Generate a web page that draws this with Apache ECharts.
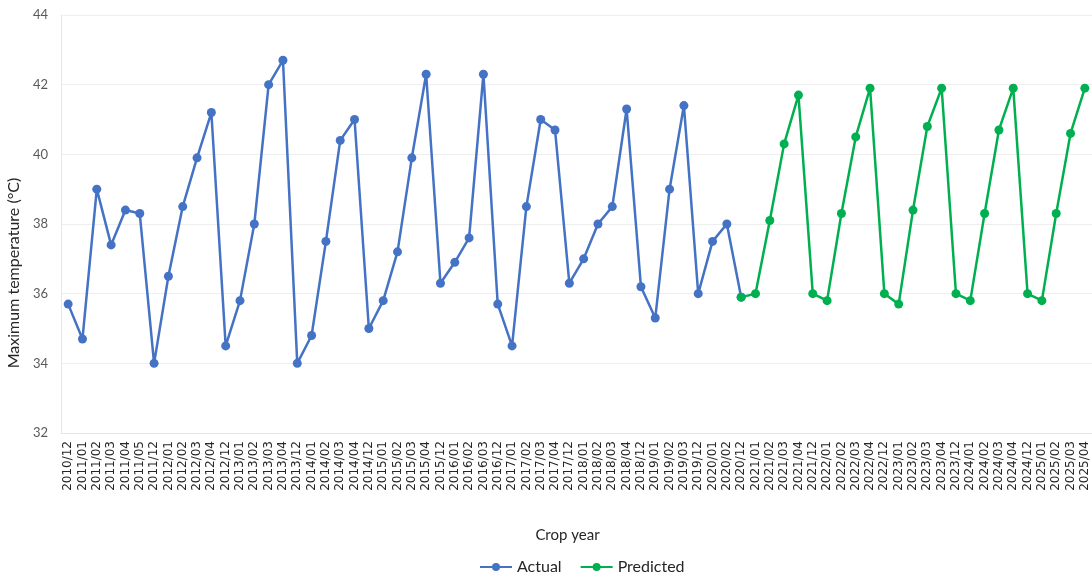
<!DOCTYPE html>
<html>
<head>
<meta charset="utf-8">
<script src="https://cdn.jsdelivr.net/npm/echarts@6/dist/echarts.min.js"></script>
<style>html,body{margin:0;padding:0;background:#fff;}#c{width:1092px;height:579px;}</style>
</head>
<body>
<div id="c"></div>
<script>
const categories = ["2010/12","2011/01","2011/02","2011/03","2011/04","2011/05","2011/12","2012/01","2012/02","2012/03","2012/04","2012/12","2013/01","2013/02","2013/03","2013/04","2013/12","2014/01","2014/02","2014/03","2014/04","2014/12","2015/01","2015/02","2015/03","2015/04","2015/12","2016/01","2016/02","2016/03","2016/12","2017/01","2017/02","2017/03","2017/04","2017/12","2018/01","2018/02","2018/03","2018/04","2018/12","2019/01","2019/02","2019/03","2019/12","2020/01","2020/02","2020/12","2021/01","2021/02","2021/03","2021/04","2021/12","2022/01","2022/02","2022/03","2022/04","2022/12","2023/01","2023/02","2023/03","2023/04","2023/12","2024/01","2024/02","2024/03","2024/04","2024/12","2025/01","2025/02","2025/03","2025/04"];
const actual = [35.7,34.7,39.0,37.4,38.4,38.3,34.0,36.5,38.5,39.9,41.2,34.5,35.8,38.0,42.0,42.7,34.0,34.8,37.5,40.4,41.0,35.0,35.8,37.2,39.9,42.3,36.3,36.9,37.6,42.3,35.7,34.5,38.5,41.0,40.7,36.3,37.0,38.0,38.5,41.3,36.2,35.3,39.0,41.4,36.0,37.5,38.0,35.9];
const predictedStart = "2020/12";
const predicted = [35.9,36.0,38.1,40.3,41.7,36.0,35.8,38.3,40.5,41.9,36.0,35.7,38.4,40.8,41.9,36.0,35.8,38.3,40.7,41.9,36.0,35.8,38.3,40.6,41.9];
const yTicks = {min:32, max:44, interval:2};

const startIdx = categories.indexOf(predictedStart);
const actualData = categories.map((c,i)=> i < actual.length ? actual[i] : null);
const predData = categories.map((c,i)=> i >= startIdx ? predicted[i-startIdx] : null);

const chart = echarts.init(document.getElementById('c'), null, {renderer:'canvas'});
chart.setOption({
  animation:false,
  backgroundColor:'#ffffff',
  grid:{left:61, right:0, top:15, bottom:146, outerBoundsMode:'none', containLabel:false},
  legend:{
    bottom:-1, left:474,
    itemWidth:32, itemHeight:10, itemGap:18,
    textStyle:{fontFamily:'Lato', fontSize:16, color:'#262626'},
    data:['Actual','Predicted']
  },
  xAxis:{
    type:'category', data:categories, boundaryGap:true,
    name:'Crop year', nameLocation:'middle', nameGap:95,
    nameTextStyle:{fontFamily:'Lato', fontSize:15, color:'#262626', padding:[0,18,0,0]},
    axisLine:{show:true, lineStyle:{color:'#e6e6e6'}},
    axisTick:{show:false},
    axisLabel:{interval:0, rotate:90, margin:8, fontFamily:'DejaVu Sans', fontSize:12, color:'#262626'}
  },
  yAxis:{
    type:'value', min:yTicks.min, max:yTicks.max, interval:yTicks.interval,
    name:'Maximum temperature (°C)', nameLocation:'middle', nameGap:32, nameRotate:90,
    nameTextStyle:{fontFamily:'Lato', fontSize:16, color:'#262626', padding:[0,98,0,0]},
    axisLine:{show:true, lineStyle:{color:'#e6e6ee'}},
    axisTick:{show:false},
    axisLabel:{margin:13, fontFamily:'Lato', fontSize:13, color:'#595959'},
    splitLine:{show:true, lineStyle:{color:'#eeeeee', width:1}}
  },
  series:[
    {name:'Actual', type:'line', data:actualData, color:'#4472C4',
     symbol:'circle', symbolSize:9, lineStyle:{width:2.5, color:'#4472C4'}, itemStyle:{color:'#4472C4'}},
    {name:'Predicted', type:'line', data:predData, color:'#00B050',
     symbol:'circle', symbolSize:9, lineStyle:{width:2.5, color:'#00B050'}, itemStyle:{color:'#00B050'}}
  ]
});
</script>
</body>
</html>
